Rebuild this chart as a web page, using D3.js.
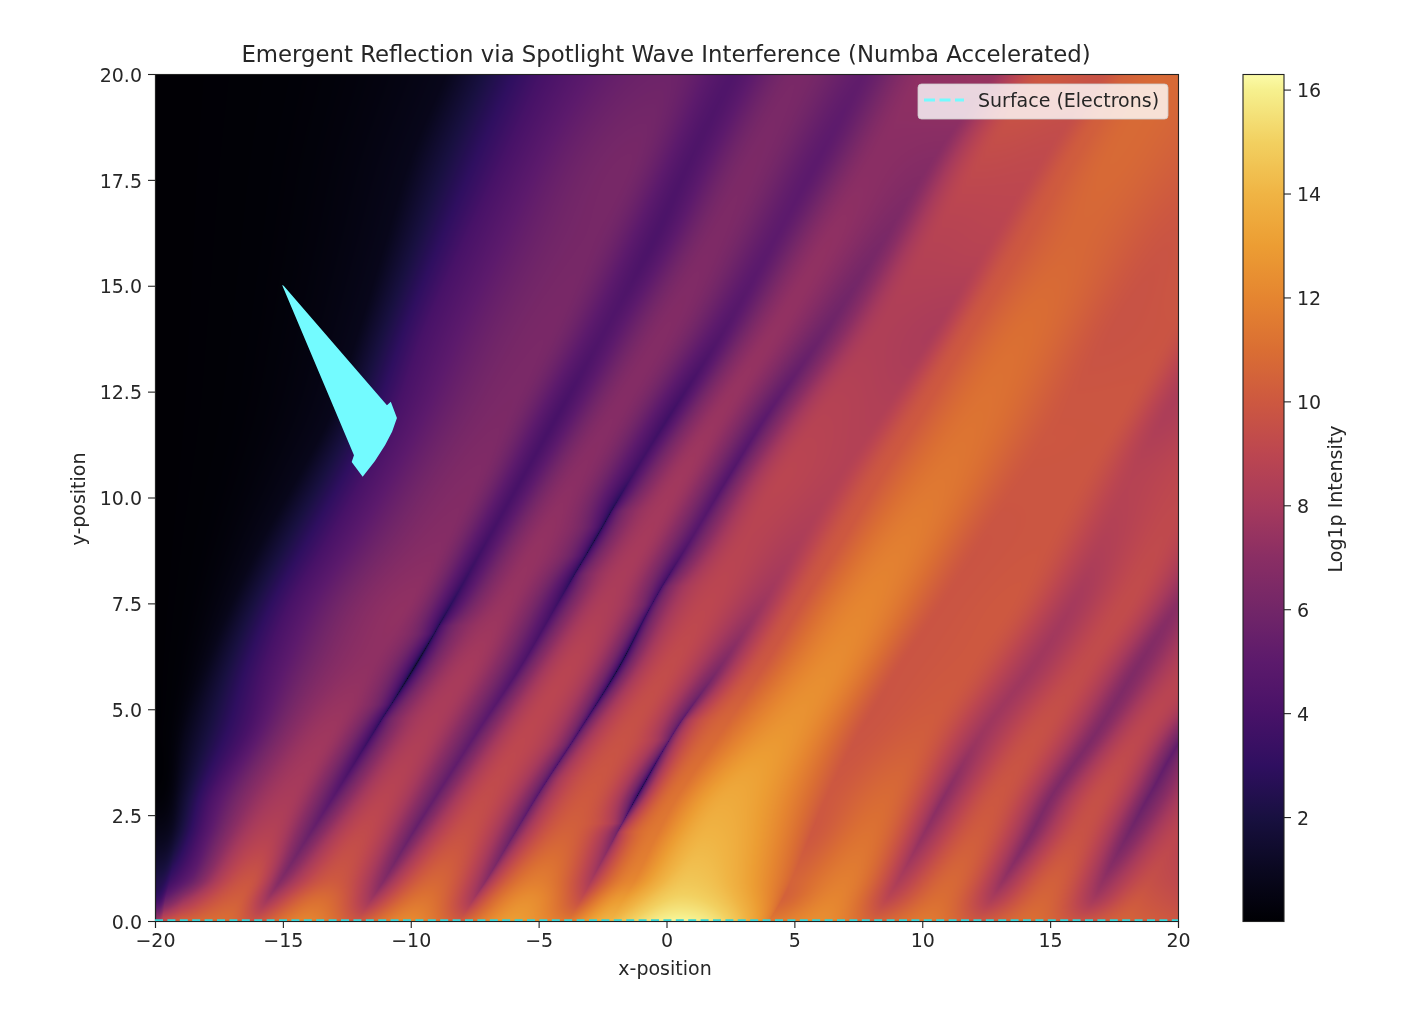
<!DOCTYPE html>
<html>
<head>
<meta charset="utf-8">
<title>Emergent Reflection</title>
<script src="https://d3js.org/d3.v7.min.js"></script>
<style>
  html, body { margin: 0; padding: 0; background: #fff; }
  #wrap { position: relative; width: 1410px; height: 1032px; overflow: hidden; }
  canvas, svg { position: absolute; left: 0; top: 0; }
  text { font-family: "DejaVu Sans", sans-serif; fill: #262626; }
</style>
</head>
<body>
<div id="wrap"></div>
<script>
// intensity read off the picture along the stripes: one row per y level,
// one column per ray (edge, dark trough or bright crest)
var yLevels = [0, 0.5, 1, 2, 3, 4.5, 6, 7.5, 9, 10.5, 12, 14, 16, 18, 20];
var rayKinds = 'eeecTcTcTcTecTcTcTcTce';

var rayX = [
  [-20,-19.7,-19,-17.3,-16.1,-14.1,-12.1,-10.1,-8.1,-6,-3.85,-2.2,0.5,4,6,8.1,10.15,12.2,14.2,16.2,18,20.5],
  [-20,-19.6,-18.9,-16.8,-15.6,-13.6,-11.55,-9.55,-7.55,-5.45,-3.35,-1.7,0.6,4.5,6.5,8.6,10.65,12.7,14.7,16.7,18.5,21],
  [-20,-19.4,-18.5,-16.3,-15.05,-13,-11,-9,-7,-5,-2.9,-1.2,0.9,4.9,7,9.1,11.15,13.2,15.15,17.1,19,21.5],
  [-20,-19.2,-18.1,-15.6,-14,-12,-10,-8,-6,-4,-2,-0.4,1.6,5.6,7.8,10,12.1,14.2,16.1,18,20,22],
  [-20,-19.1,-17.7,-14.7,-12.95,-10.95,-8.95,-7,-5,-3.05,-1.1,0.5,2.5,6.3,8.6,10.9,13,15.1,17,18.9,21,23],
  [-20,-18.8,-16.4,-13.2,-11.4,-9.4,-7.35,-5.4,-3.4,-1.5,0.35,2.2,4.6,7.6,10,12.4,14.6,16.85,18.6,20.4,22,24],
  [-20,-18,-15.7,-11.7,-9.85,-7.8,-5.7,-3.8,-1.85,0.1,2.1,3.8,6.4,9.1,11.7,14.3,16.35,18.4,20.5,23,25,27],
  [-20,-17,-14.7,-10.2,-8.4,-6.3,-4.25,-2.4,-0.55,1.6,3.75,5.3,7.8,10.8,13.35,15.9,18,20,22,25,27,29],
  [-20,-15.8,-13.2,-8.8,-7,-4.9,-2.8,-0.9,0.95,3.1,5.2,6.9,9.3,12.4,14.75,17.1,19.3,21.5,24,26,28,30],
  [-20,-14.4,-11.8,-7.5,-5.6,-3.5,-1.35,0.55,2.45,4.6,6.75,8.4,10.8,14,16.1,18.2,20.5,23,25,27,29,31],
  [-20,-13.1,-10.6,-6.3,-4.2,-2,0.2,2.1,4,6.2,8.4,10,12.2,15.6,17.6,19.6,22,24,26,28,30,32],
  [-20,-12,-9.4,-4.6,-2.35,0,2.3,4.3,6.3,8.4,10.5,12,14,17.6,19.6,21.5,24,26,28,30,32,34],
  [-20,-11,-7.9,-3,-0.55,1.8,4.15,6.3,8.4,10.45,12.5,14,15.9,19.6,21.3,23,25,27,29,31,33,35],
  [-20,-10,-6.3,-1.5,0.95,3.45,5.95,8.2,10.4,12.5,14.6,16,17.5,21,23,25,27,29,31,33,35,37],
  [-20,-8.6,-5,0,2.6,5.15,7.7,10.25,12.8,14.9,17,18.2,19.3,22,24,26,28,30,32,34,36,38]
];

var rayV = [
  [8,9.5,10.5,11,9.8,12,10,12.2,10.2,13,11.5,14,16.2,11.5,12.4,10.5,11.5,10,11,9.8,10.5,9.8],
  [3.5,5.5,7.5,10.3,7.8,11,7.8,11.3,8,12.4,9.5,13,15.2,10.5,12,9,11,8.3,10.6,8,10,9],
  [2.2,3.4,5.5,9.8,6.6,10,6.6,10.6,6.8,11.6,8,12,14.6,10.5,11.7,8.2,10.7,7.3,10.3,7.2,9.5,8.5],
  [0.8,1.6,4.5,8.7,5.6,9.3,5.5,9.7,5.4,10.5,6,11.5,14,10,11.2,7.3,10.2,6.5,9.7,6.1,9,8],
  [0.1,1,4.2,8.1,4.7,8.8,5.3,9.3,4.4,10,1,11.2,13.5,10,10.8,7,9.9,6.5,9.5,5.5,8.8,8],
  [0.05,0.8,4,7.7,2.9,8.3,5,9,2.8,9.6,4.3,10.7,12.7,9.8,10.2,7.7,9.6,6.5,9,5.2,8.7,8],
  [0.05,0.8,4,7.2,0.2,8,4.3,8.8,0.8,9.3,6.5,10,12.3,9.8,10,7.8,9.3,6.6,8.8,6,8.5,8],
  [0.05,0.8,4,7.2,2.8,7.5,3.5,8.3,2.5,9,7.7,9.9,12,9.8,10,8,9.3,7,8.8,6,8.5,8],
  [0.05,0.8,4,6.8,3.8,7.3,1.2,8,4.5,8.8,8.3,10,11.7,9.8,9.9,8.5,9.2,7.5,8.8,6,8.5,8],
  [0.05,0.8,4,6.6,4,7,3.5,7.8,4.5,8.9,8.6,10,11.4,9.9,9.9,8.7,9.1,8,8.8,6,8.5,8],
  [0.05,0.8,4,6.4,4,6.8,3.7,7.5,5,8.7,8.5,10,11.2,9.9,9.9,8.3,9,8,8.8,6,8.5,8],
  [0.05,0.8,4,6.3,4.4,6.7,4.6,7.3,5.8,8.4,8.2,10,11,9.7,9.8,8.3,9,8,8.8,6,8.5,8],
  [0.05,0.8,4,6.2,4.2,6.5,5,7.2,6.3,8.7,8.8,10,10.7,9.8,10,8.3,9,8,8.8,6,8.5,8],
  [0.05,0.8,4,6.2,4.3,6.4,5,7,6.8,9.3,9.2,10.2,10.8,10.2,10,8.3,9,8,8.8,6,8.5,8],
  [0.05,0.8,3.8,5.8,4.4,6.3,5.2,7.2,7.5,10,9.7,10.5,10.8,10.6,10,8.3,9,8,8.8,6,8.5,8]
];

// colours, one per cbValues entry
var cbValues = [0, 1, 2, 3, 4, 5, 6, 7, 8, 9, 10, 11, 12, 13, 14, 15, 16, 16.3];
var cbColors = ['#000004','#0a0820','#181040','#2f0f60','#481268','#5c1a6c','#722668','#8a2e64','#a63a5c','#bc4650','#cd5840','#da6e33','#e58530','#ec9d33','#f0b444','#f2d060','#f6f08e','#fbfba8'];
var xTicks = [-20, -15, -10, -5, 0, 5, 10, 15, 20];
var yTicks = [0, 2.5, 5, 7.5, 10, 12.5, 15, 17.5, 20];
var cbTicks = [2, 4, 6, 8, 10, 12, 14, 16];

// the cyan blob, corners in data coordinates
var blob = [[-15.03,15.02],[-14.97,15],[-10.93,12.18],[-10.78,12.26],[-10.54,11.88],[-10.73,11.55],[-11,11.24],[-11.4,10.86],[-11.88,10.49],[-12.31,10.84],[-12.22,11],[-15.03,15.02]];
var surfaceX = [-20, 20];
var surfaceY = [0.02, 0.02];

var width = 1410, height = 1032;
var plot = {left: 155, right: 1178, top: 74, bottom: 921};
var cb = {left: 1243, right: 1284};
var txt = '#262626';

var x = d3.scaleLinear().domain([-20, 20]).range([plot.left, plot.right]);
var y = d3.scaleLinear().domain([0, 20]).range([plot.bottom, plot.top]);
var cbY = d3.scaleLinear().domain([0, 16.3]).range([plot.bottom, plot.top]);
var color = d3.scaleLinear().domain(cbValues).range(cbColors).clamp(true);

var wrap = d3.select('#wrap');

// heat map on a canvas, one pixel at a time
var canvas = wrap.append('canvas')
    .attr('width', plot.right - plot.left)
    .attr('height', plot.bottom - plot.top)
    .style('left', plot.left + 'px')
    .style('top', plot.top + 'px');
var ctx = canvas.node().getContext('2d');
var w = plot.right - plot.left, h = plot.bottom - plot.top;
var img = ctx.createImageData(w, h);

var nRays = rayKinds.length;

// smooth curve through the rows so the rays do not kink at every y level
function alongRay(table, i, yv) {
    var k = Math.min(Math.max(d3.bisectRight(yLevels, yv), 1), yLevels.length - 1);
    var a = k - 1, b = k;
    var dy = yLevels[b] - yLevels[a];
    var p0 = table[a][i], p1 = table[b][i];
    var ma = a > 0 ? (p1 - table[a - 1][i]) / (yLevels[b] - yLevels[a - 1]) : (p1 - p0) / dy;
    var mb = b < yLevels.length - 1 ? (table[b + 1][i] - p0) / (yLevels[b + 1] - yLevels[a]) : (p1 - p0) / dy;
    var s = (yv - yLevels[a]) / dy;
    return (2*s*s*s - 3*s*s + 1) * p0 + (s*s*s - 2*s*s + s) * dy * ma
         + (-2*s*s*s + 3*s*s) * p1 + (s*s*s - s*s) * dy * mb;
}

// deep troughs are thin cusps, shallow ones are round
function rise(t, depth) {
    var q = Math.max(0.18, Math.min(1, 1 - depth * 0.14));
    return Math.pow(Math.pow(Math.sin(t * Math.PI / 2), 2), q);
}

for (var py = 0; py < h; py++) {
    var yv = y.invert(plot.top + py + 0.5);
    var xs = [], vs = [];
    for (var r = 0; r < nRays; r++) {
        xs.push(alongRay(rayX, r, yv));
        vs.push(alongRay(rayV, r, yv));
    }
    for (var px = 0; px < w; px++) {
        var xv = x.invert(plot.left + px + 0.5);
        var j = Math.min(Math.max(d3.bisectRight(xs, xv), 1), nRays - 1);
        var t = Math.max(0, Math.min(1, (xv - xs[j - 1]) / (xs[j] - xs[j - 1])));
        var depth = Math.abs(vs[j] - vs[j - 1]);
        if (rayKinds[j - 1] == 'T') t = rise(t, depth);
        else if (rayKinds[j] == 'T') t = 1 - rise(1 - t, depth);
        else if (rayKinds[j] == 'c') t = Math.sin(t * Math.PI / 2);
        else if (j == 1) t = t * t * t; // stays black for most of the left edge
        var c = d3.rgb(color(vs[j - 1] + (vs[j] - vs[j - 1]) * t));
        var k = (py * w + px) * 4;
        img.data[k] = c.r; img.data[k + 1] = c.g; img.data[k + 2] = c.b; img.data[k + 3] = 255;
    }
}
ctx.putImageData(img, 0, 0);

var svg = wrap.append('svg').attr('width', width).attr('height', height);

// blob
svg.append('path')
    .attr('d', d3.line().x(function(d) { return x(d[0]); }).y(function(d) { return y(d[1]); })(blob))
    .attr('fill', '#73fbff');

// axes
function styleAxis(g) {
    g.selectAll('path').attr('stroke', '#222').attr('stroke-width', 1.1);
    g.selectAll('line').attr('stroke', '#222').attr('stroke-width', 1.1);
    g.selectAll('text').attr('font-size', 19).attr('font-family', '"DejaVu Sans", sans-serif').attr('fill', txt);
}
var fmtX = function(d) { return d3.format('d')(d).replace('-', '\u2212'); };

svg.append('g')
    .attr('transform', 'translate(0,' + plot.bottom + ')')
    .call(d3.axisBottom(x).tickValues(xTicks).tickFormat(fmtX).tickSize(7).tickPadding(6))
    .call(styleAxis);
svg.append('g')
    .attr('transform', 'translate(' + plot.left + ',0)')
    .call(d3.axisLeft(y).tickValues(yTicks).tickFormat(d3.format('.1f')).tickSize(7).tickPadding(6))
    .call(styleAxis)
    .selectAll('text').attr('dy', '0.38em');
svg.append('rect')
    .attr('x', plot.left + 0.5).attr('y', plot.top + 0.5)
    .attr('width', plot.right - plot.left).attr('height', plot.bottom - plot.top)
    .attr('fill', 'none').attr('stroke', '#222').attr('stroke-width', 1.1);

// dashed surface line, sits on the frame
svg.append('line')
    .attr('x1', x(surfaceX[0])).attr('x2', x(surfaceX[1]))
    .attr('y1', y(surfaceY[0])).attr('y2', y(surfaceY[1]))
    .attr('stroke', '#35d5d8').attr('stroke-width', 1.8)
    .attr('stroke-dasharray', '8,4.4');

// colour bar
var grad = svg.append('defs').append('linearGradient')
    .attr('id', 'cbGrad').attr('x1', 0).attr('y1', 1).attr('x2', 0).attr('y2', 0);
grad.selectAll('stop').data(cbValues).enter().append('stop')
    .attr('offset', function(d) { return d / 16.3; })
    .attr('stop-color', function(d, i) { return cbColors[i]; });
svg.append('rect')
    .attr('x', cb.left).attr('y', plot.top + 0.5)
    .attr('width', cb.right - cb.left).attr('height', plot.bottom - plot.top)
    .attr('fill', 'url(#cbGrad)').attr('stroke', '#222').attr('stroke-width', 1.1);
svg.append('g')
    .attr('transform', 'translate(' + cb.right + ',0)')
    .call(d3.axisRight(cbY).tickValues(cbTicks).tickFormat(d3.format('d')).tickSize(7).tickPadding(6))
    .call(styleAxis)
    .call(function(g) { g.select('path').remove(); })
    .selectAll('text').attr('dy', '0.38em');

// titles
svg.append('text').attr('x', 666).attr('y', 62).attr('text-anchor', 'middle')
    .attr('font-size', 22.8).text('Emergent Reflection via Spotlight Wave Interference (Numba Accelerated)');
svg.append('text').attr('x', 665).attr('y', 975).attr('text-anchor', 'middle')
    .attr('font-size', 19).text('x-position');
svg.append('text').attr('transform', 'translate(85,499) rotate(-90)').attr('text-anchor', 'middle')
    .attr('font-size', 19).text('y-position');
svg.append('text').attr('transform', 'translate(1342,499) rotate(-90)').attr('text-anchor', 'middle')
    .attr('font-size', 19).text('Log1p Intensity');

// legend
var legend = svg.append('g').attr('transform', 'translate(918,84)');
legend.append('rect')
    .attr('width', 250).attr('height', 35).attr('rx', 3.5)
    .attr('fill', '#fff').attr('fill-opacity', 0.8)
    .attr('stroke', '#ccc').attr('stroke-opacity', 0.8);
legend.append('line')
    .attr('x1', 6).attr('x2', 46).attr('y1', 16).attr('y2', 16)
    .attr('stroke', '#73fbff').attr('stroke-width', 2.8)
    .attr('stroke-dasharray', '11,4.5');
legend.append('text').attr('x', 60).attr('y', 23)
    .attr('font-size', 19).text('Surface (Electrons)');
</script>
</body>
</html>
